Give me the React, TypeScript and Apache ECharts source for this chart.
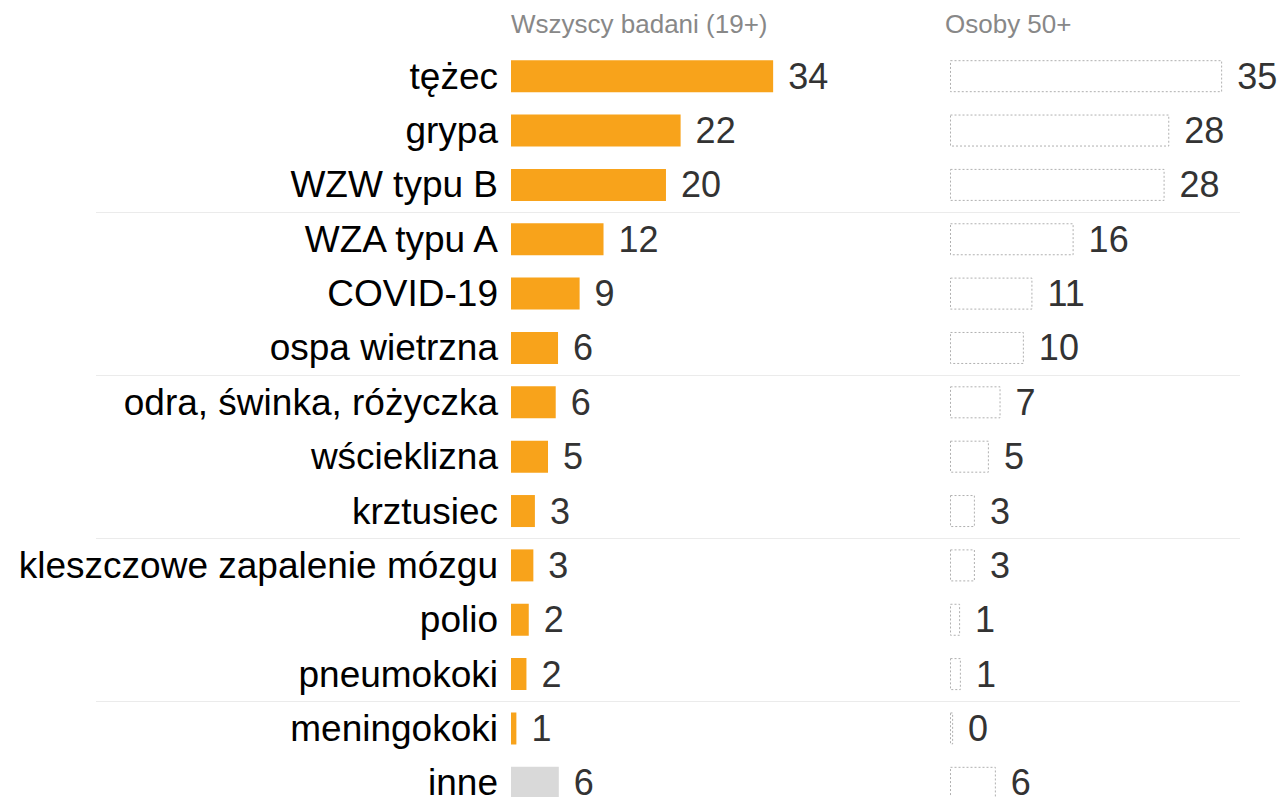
import React, { useEffect, useRef } from "react";
import * as echarts from "echarts";

const categories = [
  "tężec",
  "grypa",
  "WZW typu B",
  "WZA typu A",
  "COVID-19",
  "ospa wietrzna",
  "odra, świnka, różyczka",
  "wścieklizna",
  "krztusiec",
  "kleszczowe zapalenie mózgu",
  "polio",
  "pneumokoki",
  "meningokoki",
  "inne",
];
// labels show rounded values
const allValues = [34, 22, 20.1, 12, 8.9, 6.1, 5.8, 4.8, 3.1, 2.9, 2.3, 2.0, 0.7, 6.2];
const olderValues = [35, 28.2, 27.6, 15.9, 10.6, 9.5, 6.5, 5.0, 3.2, 3.2, 1.3, 1.4, 0.4, 5.9];
const panelTitles = ["Wszyscy badani (19+)", "Osoby 50+"];
const otherCategory = "inne";
const separatorAfter = [2, 5, 8, 11];

const FONT = "'Liberation Sans', Arial, Helvetica, sans-serif";

export default function App() {
  const ref = useRef<HTMLDivElement>(null);
  useEffect(() => {
    if (!ref.current) return;
    const chart = echarts.init(ref.current, null, { renderer: "svg" });
    const labelCfg = {
      show: true,
      position: "right",
      distance: 15,
      fontSize: 36,
      fontFamily: FONT,
      color: "#333333",
      formatter: (p: any) => String(Math.round(p.value)),
    };
    const option: any = {
      animation: false,
      backgroundColor: "#ffffff",
      grid: [
        { left: 511, top: 49, width: 308.4, height: 761 },
        { left: 950, top: 49, width: 311, height: 761 },
      ],
      xAxis: [
        { type: "value", gridIndex: 0, min: 0, max: 40, show: false },
        { type: "value", gridIndex: 1, min: 0, max: 40, show: false },
      ],
      yAxis: [
        {
          type: "category",
          gridIndex: 0,
          data: categories,
          inverse: true,
          axisLine: { show: false },
          axisTick: { show: false },
          splitLine: { show: false },
          axisLabel: {
            fontSize: 37,
            fontFamily: FONT,
            color: "#000000",
            margin: 13,
          },
        },
        {
          type: "category",
          gridIndex: 1,
          data: categories,
          inverse: true,
          axisLine: { show: false },
          axisTick: { show: false },
          splitLine: { show: false },
          axisLabel: { show: false },
        },
      ],
      series: [
        {
          type: "bar",
          xAxisIndex: 0,
          yAxisIndex: 0,
          barWidth: 32,
          data: allValues.map((v, i) => ({
            value: v,
            itemStyle: { color: categories[i] === otherCategory ? "#d9d9d9" : "#f8a31b" },
          })),
          label: labelCfg,
        },
        {
          type: "bar",
          xAxisIndex: 1,
          yAxisIndex: 1,
          barWidth: 32,
          data: olderValues,
          itemStyle: {
            color: "rgba(255,255,255,0)",
            borderColor: "#b0b0b0",
            borderWidth: 1,
            borderType: [2, 2],
          },
          label: labelCfg,
        },
      ],
      graphic: [
        {
          type: "text",
          left: 511,
          top: 11,
          style: { text: panelTitles[0], fontSize: 26, fontFamily: FONT, fill: "#888888" },
        },
        {
          type: "text",
          left: 945,
          top: 11,
          style: { text: panelTitles[1], fontSize: 26, fontFamily: FONT, fill: "#888888" },
        },
      ],
    };
    chart.setOption(option);
    const lines = separatorAfter.map((idx) => {
      const y1 = chart.convertToPixel({ yAxisIndex: 0 }, categories[idx]) as number;
      const y2 = chart.convertToPixel({ yAxisIndex: 0 }, categories[idx + 1]) as number;
      const y = Math.round((y1 + y2) / 2) + 0.5;
      return {
        type: "line",
        shape: { x1: 96, y1: y, x2: 1240, y2: y },
        style: { stroke: "#ebebeb", lineWidth: 1 },
        z: -1,
      };
    });
    chart.setOption({ graphic: [...option.graphic, ...lines] });
    return () => chart.dispose();
  }, []);
  return (
    <div style={{ position: "absolute", left: 0, top: 0, width: 1281, height: 797, overflow: "hidden" }}>
      <div ref={ref} style={{ width: 1281, height: 830 }} />
    </div>
  );
}
